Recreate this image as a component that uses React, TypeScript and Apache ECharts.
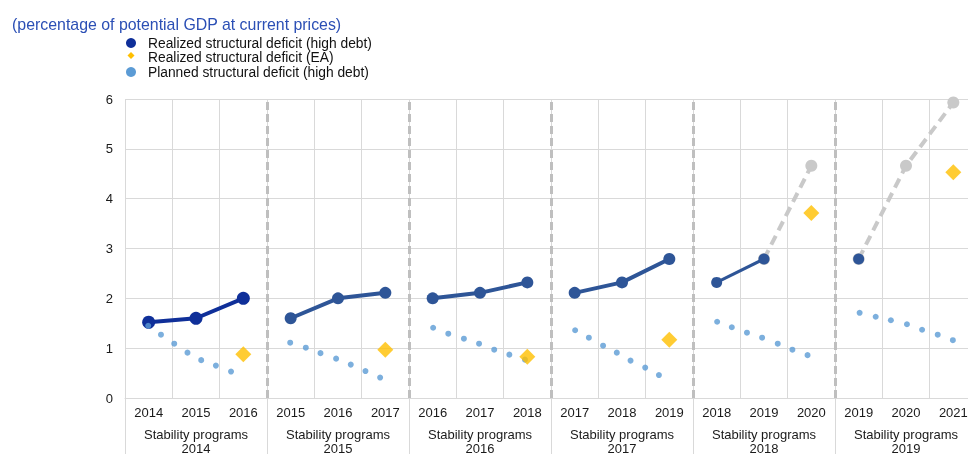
import React, { useEffect, useRef } from "react";
import * as echarts from "echarts";

const yearLabels = [
  "2014", "2015", "2016",
  "2015", "2016", "2017",
  "2016", "2017", "2018",
  "2017", "2018", "2019",
  "2018", "2019", "2020",
  "2019", "2020", "2021",
];
const programLabels = [
  "Stability programs\n2014",
  "Stability programs\n2015",
  "Stability programs\n2016",
  "Stability programs\n2017",
  "Stability programs\n2018",
  "Stability programs\n2019",
];
const yTicks = [0, 1, 2, 3, 4, 5, 6];

// realized structural deficit (high debt), per program, per year slot
const realizedHighDebt: (number | null)[][] = [
  [1.52, 1.6, 2.0],
  [1.6, 2.0, 2.11],
  [2.0, 2.11, 2.32],
  [2.11, 2.32, 2.79],
  [2.32, 2.79, null],
  [2.79, null, null],
];
// projected (grey dashed) continuation
const projectedHighDebt: (number | null)[][] = [
  [null, null, null],
  [null, null, null],
  [null, null, null],
  [null, null, null],
  [null, 2.79, 4.66],
  [2.79, 4.66, 5.93],
];
// realized structural deficit (EA), at last year of each program
const realizedEA = [0.88, 0.97, 0.83, 1.17, 3.71, 4.53];

// planned structural deficit (high debt): position within program (in year slots) and value
const plannedPos: number[][] = [
  [0.49, 0.76, 1.04, 1.32, 1.61, 1.92, 2.24],
  [0.49, 0.82, 1.13, 1.46, 1.77, 2.08, 2.39],
  [0.51, 0.83, 1.16, 1.48, 1.8, 2.12, 2.45],
  [0.51, 0.8, 1.1, 1.39, 1.68, 1.99, 2.28],
  [0.51, 0.82, 1.14, 1.46, 1.79, 2.1, 2.42],
  [0.52, 0.86, 1.18, 1.52, 1.84, 2.17, 2.49],
];
const plannedVal: number[][] = [
  [1.45, 1.27, 1.09, 0.91, 0.76, 0.65, 0.53],
  [1.11, 1.01, 0.9, 0.79, 0.67, 0.54, 0.41],
  [1.41, 1.29, 1.19, 1.09, 0.97, 0.87, 0.77],
  [1.36, 1.21, 1.05, 0.91, 0.75, 0.61, 0.46],
  [1.53, 1.42, 1.31, 1.21, 1.09, 0.97, 0.86],
  [1.71, 1.63, 1.56, 1.48, 1.37, 1.27, 1.16],
];

const legendNames = [
  "Realized structural deficit (high debt)",
  "Realized structural deficit (EA)",
  "Planned structural deficit (high debt)",
];
const titleText = "(percentage of potential GDP at current prices)";

const FONT = "Arial, 'Liberation Sans', sans-serif";
const NAVY1 = "#0f2f99";
const NAVY2 = "#2e5597";
const YELLOW = "#ffbf00";
const LIGHTBLUE = "#5b9bd5";
const GREY = "#c9c9c9";
const GRID = "#d9d9d9";

export default function App() {
  const ref = useRef<HTMLDivElement>(null);

  useEffect(() => {
    if (!ref.current) return;
    const chart = echarts.init(ref.current, undefined, { renderer: "svg" });
    const nG = programLabels.length;
    const series: any[] = [];

    // grey projected lines
    projectedHighDebt.forEach((grp, g) => {
      const pts = grp
        .map((v, k) => (v == null ? null : [g * 3 + k + 0.5, v]))
        .filter((p) => p !== null);
      if (pts.length === 0) return;
      series.push({
        type: "line",
        xAxisIndex: 2,
        data: pts,
        symbol: "circle",
        symbolSize: 12,
        itemStyle: { color: GREY },
        lineStyle: { color: GREY, width: 4, type: [10, 6] },
        z: 2,
      });
    });

    // realized high debt lines
    realizedHighDebt.forEach((grp, g) => {
      const pts = grp
        .map((v, k) => (v == null ? null : [g * 3 + k + 0.5, v]))
        .filter((p) => p !== null);
      const col = g === 0 ? NAVY1 : NAVY2;
      series.push({
        name: legendNames[0],
        type: "line",
        xAxisIndex: 2,
        data: pts,
        symbol: "circle",
        symbolSize: g === 0 ? 13 : g >= 4 ? 11 : 12,
        itemStyle: { color: col },
        lineStyle: { color: col, width: g === 4 ? 3 : 4 },
        z: 3,
      });
    });

    // planned dots
    series.push({
      name: legendNames[2],
      type: "scatter",
      xAxisIndex: 2,
      symbol: "circle",
      symbolSize: 6,
      itemStyle: { color: LIGHTBLUE },
      data: plannedPos.flatMap((row, g) =>
        row.map((p, i) => [g * 3 + p, plannedVal[g][i]])
      ),
      z: 4,
      markLine: {
        silent: true,
        symbol: "none",
        label: { show: false },
        lineStyle: { color: "#bfbfbf", width: 3, type: [8, 4] },
        data: Array.from({ length: nG - 1 }, (_, i) => ({ xAxis: (i + 1) * 3 })),
      },
    });

    // EA diamonds
    series.push({
      name: legendNames[1],
      type: "scatter",
      xAxisIndex: 2,
      symbol: "diamond",
      symbolSize: 16,
      itemStyle: { color: YELLOW },
      data: realizedEA.map((v, g) => [g * 3 + 2.5, v]),
      z: 5,
    });

    chart.setOption({
      animation: false,
      textStyle: { fontFamily: FONT },
      grid: { left: 125, right: 0, top: 99, height: 300, containLabel: false },
      xAxis: [
        {
          type: "category",
          data: yearLabels,
          position: "bottom",
          boundaryGap: true,
          axisLine: { show: true, lineStyle: { color: GRID, width: 1 } },
          axisTick: {
            show: true,
            interval: (i: number) => i % 3 === 0,
            length: 56,
            lineStyle: { color: GRID, width: 1 },
          },
          splitLine: { show: true, interval: 0, lineStyle: { color: GRID, width: 1 } },
          axisLabel: {
            interval: 0,
            margin: 7,
            fontSize: 13,
            lineHeight: 14,
            color: "#1a1a1a",
            fontFamily: FONT,
          },
        },
        {
          type: "category",
          data: programLabels,
          position: "bottom",
          axisLine: { show: false },
          axisTick: { show: false },
          splitLine: { show: false },
          axisLabel: {
            interval: 0,
            margin: 29,
            fontSize: 13,
            lineHeight: 14,
            color: "#1a1a1a",
            fontFamily: FONT,
          },
        },
        { type: "value", min: 0, max: 18, show: false },
      ],
      yAxis: {
        type: "value",
        min: 0,
        max: 6,
        interval: 1,
        axisLine: { show: false },
        axisTick: { show: false },
        splitLine: { show: true, lineStyle: { color: GRID, width: 1 } },
        axisLabel: {
          margin: 12,
          fontSize: 13,
          color: "#1a1a1a",
          fontFamily: FONT,
          formatter: (v: number) => (yTicks.includes(v) ? String(v) : ""),
        },
      },
      graphic: [
        {
          type: "text",
          x: 12,
          y: 24,
          style: {
            text: titleText,
            fill: "#2b4fb5",
            font: `15.9px ${FONT}`,
            verticalAlign: "middle",
          },
        },
        { type: "circle", shape: { cx: 131, cy: 43, r: 5 }, style: { fill: NAVY1 } },
        {
          type: "polygon",
          shape: { points: [[131, 52], [134.5, 55.5], [131, 59], [127.5, 55.5]] },
          style: { fill: YELLOW },
        },
        { type: "circle", shape: { cx: 131, cy: 72, r: 5 }, style: { fill: LIGHTBLUE } },
        ...legendNames.map((n, i) => ({
          type: "text",
          x: 148,
          y: [43, 57, 72][i],
          style: {
            text: n,
            fill: "#111",
            font: `13.8px ${FONT}`,
            verticalAlign: "middle",
          },
        })),
      ],
      series,
    });
    return () => chart.dispose();
  }, []);

  return (
    <div
      style={{
        position: "fixed",
        left: 0,
        top: 0,
        width: 968,
        height: 455,
        overflow: "hidden",
      }}
    >
      <div ref={ref} style={{ width: 977, height: 455 }} />
    </div>
  );
}
